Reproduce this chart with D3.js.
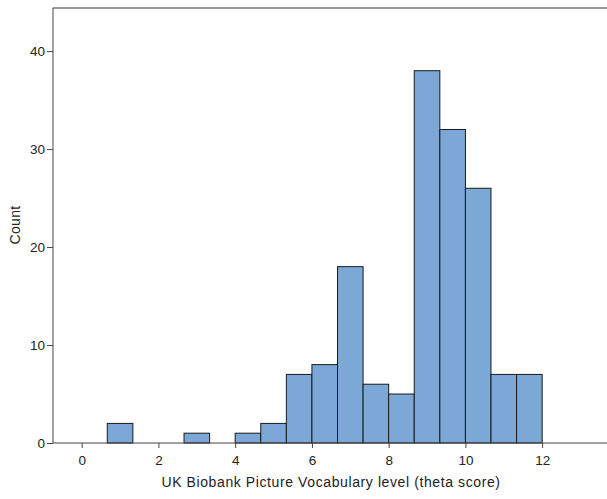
<!DOCTYPE html>
<html>
<head>
<meta charset="utf-8">
<script src="https://cdn.jsdelivr.net/npm/d3@7"></script>
<style>
	body { margin: 0; background: #fff; }
	text { font-family: "Liberation Sans", Arial, sans-serif; fill: #222; }
</style>
</head>
<body>
<div id="chart"></div>
<script>
// histogram bins (centre of each bin, bin width 2/3 of a unit)
const binCenters = [1, 3, 4.333, 5, 5.667, 6.333, 7, 7.667, 8.333, 9, 9.667, 10.333, 11, 11.667];
const binCounts = [2, 1, 1, 2, 7, 8, 18, 6, 5, 38, 32, 26, 7, 7];
const binWidth = 2 / 3;

const xTicks = [0, 2, 4, 6, 8, 10, 12];
const yTicks = [0, 10, 20, 30, 40];
const xTitle = "UK Biobank Picture Vocabulary level (theta score)";
const yTitle = "Count";

const svgWidth = 607;
const svgHeight = 499;
const plotLeft = 53, plotTop = 8, plotBottom = 443, plotRight = 607;

const svg = d3.select("#chart")
	.append("svg")
	.attr("width", svgWidth)
	.attr("height", svgHeight);

// x 및 y 스케일
const xScale = d3.scaleLinear()
	.domain([-0.748, 13.69])
	.range([plotLeft, plotRight]);

const yScale = d3.scaleLinear()
	.domain([0, 44.4])
	.range([plotBottom, plotTop]);

// bars
svg.append("g")
	.selectAll("rect")
	.data(binCenters.map((c, i) => ({ c: c, n: binCounts[i] })))
	.enter()
	.append("rect")
	.attr("x", (d) => xScale(d.c - binWidth / 2))
	.attr("y", (d) => yScale(d.n))
	.attr("width", (d) => xScale(d.c + binWidth / 2) - xScale(d.c - binWidth / 2))
	.attr("height", (d) => yScale(0) - yScale(d.n))
	.attr("fill", "#7ba8d6")
	.attr("stroke", "#1a1a1a")
	.attr("stroke-width", 1);

// frame top line
svg.append("line")
	.attr("x1", plotLeft).attr("x2", plotRight)
	.attr("y1", plotTop).attr("y2", plotTop)
	.attr("stroke", "#777")
	.attr("stroke-width", 1.5);

// axes
const xAxis = d3.axisBottom(xScale).tickValues(xTicks).tickSize(5).tickSizeOuter(0);
const yAxis = d3.axisLeft(yScale).tickValues(yTicks).tickSize(6).tickSizeOuter(0);

const gx = svg.append("g")
	.attr("transform", `translate(0, ${plotBottom})`)
	.call(xAxis);
const gy = svg.append("g")
	.attr("transform", `translate(${plotLeft}, 0)`)
	.call(yAxis);

[gx, gy].forEach((g) => {
	g.select(".domain").attr("stroke", "#444");
	g.selectAll(".tick line").attr("stroke", "#444");
	g.selectAll(".tick text")
		.style("font-family", "'Liberation Sans', Arial, sans-serif")
		.style("font-size", "13.5px")
		.attr("fill", "#222");
});
gx.selectAll(".tick text").attr("dy", "0.71em").attr("y", 12);
gy.selectAll(".tick text").attr("x", -8);
// y axis line reaches the frame top
gy.select(".domain").attr("d", `M0,${plotTop}V${plotBottom}`);
gx.select(".domain").attr("d", `M${plotLeft},0H${plotRight}`);

// titles
svg.append("text")
	.attr("x", 331)
	.attr("y", 487)
	.attr("text-anchor", "middle")
	.style("font-size", "14px")
	.style("letter-spacing", "0.6px")
	.text(xTitle);

svg.append("text")
	.attr("transform", "translate(20, 225) rotate(-90)")
	.attr("text-anchor", "middle")
	.style("font-size", "14px")
	.style("letter-spacing", "0.3px")
	.text(yTitle);
</script>
</body>
</html>
